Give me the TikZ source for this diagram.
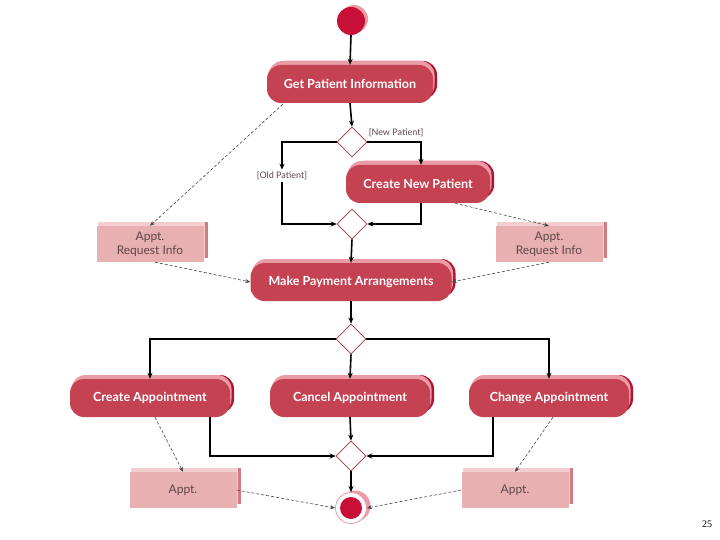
\documentclass[tikz,border=0pt]{standalone}
\usepackage{fontspec}
\setmainfont{Lato}
\newfontfamily\pagenumfont{Liberation Serif}
\usetikzlibrary{shapes.geometric,arrows.meta,shadows}

\definecolor{actred}{RGB}{197,66,82}
\definecolor{actlight}{RGB}{234,156,166}
\definecolor{actdark}{RGB}{178,18,50}
\definecolor{startred}{RGB}{200,16,56}
\definecolor{objfill}{RGB}{232,176,176}
\definecolor{objlight}{RGB}{242,206,206}
\definecolor{objdark}{RGB}{206,124,128}
\definecolor{objtext}{RGB}{95,70,72}
\definecolor{diamline}{RGB}{160,50,64}
\definecolor{depgray}{RGB}{70,70,70}

\begin{document}
\begin{tikzpicture}[x=1pt,y=-1pt,
      activity/.style={rectangle,rounded corners=14pt,fill=actred,text=white,
        font=\fontsize{12.5}{14}\selectfont\bfseries,minimum height=38,inner sep=0pt,
        general shadow={shadow xshift=4pt,shadow yshift=4pt,fill=actdark},
        general shadow={shadow xshift=1.5pt,shadow yshift=4pt,fill=actlight}},
      object/.style={rectangle,fill=objfill,text=objtext,align=center,
        font=\fontsize{12}{14}\selectfont,minimum width=107,minimum height=36,inner sep=0pt,
        general shadow={shadow xshift=4pt,shadow yshift=4pt,fill=objdark},
        general shadow={shadow xshift=1pt,shadow yshift=4pt,fill=objlight}},
      choice/.style={diamond,draw=diamline,fill=white,line width=0.6pt,
        minimum width=30,minimum height=30,inner sep=0pt},
      guard/.style={text=objtext,font=\fontsize{9}{10}\selectfont,inner sep=2pt},
      flow/.style={line width=1.6pt,-{Stealth[length=6pt,width=5pt]}},
      dep/.style={draw=depgray,line width=0.6pt,dash pattern=on 3pt off 2pt,
        -{Stealth[length=5pt,width=4pt]}}]
  \useasboundingbox (0,0) rectangle (720,540);
  % initial and final states
  \node[circle,fill=startred,minimum size=28,inner sep=0pt,
    general shadow={shadow xshift=3pt,shadow yshift=2pt,fill=actlight}] (start) at (351,21) {};
  \node[circle,fill=white,draw=actlight,line width=0.8pt,minimum size=31,inner sep=0pt,
    general shadow={shadow xshift=4pt,shadow yshift=2pt,fill=actlight},
    path picture={\fill[startred] (path picture bounding box.center) circle (11pt);}] (finish) at (351,508) {};
  % activities
  \node[activity,minimum width=166] (getinfo) at (350,84) {Get Patient Information};
  \node[activity,minimum width=144] (newpat) at (418,184) {Create New Patient};
  \node[activity,minimum width=201] (payment) at (351,282) {Make Payment Arrangements};
  \node[activity,minimum width=160] (create) at (150,398) {Create Appointment};
  \node[activity,minimum width=160] (cancel) at (350,398) {Cancel Appointment};
  \node[activity,minimum width=160] (change) at (549,398) {Change Appointment};
  % decisions and merges
  \node[choice] (dec1) at (352,142) {};
  \node[choice] (merge1) at (352,224) {};
  \node[choice] (dec2) at (351,339) {};
  \node[choice] (merge2) at (351,456) {};
  % objects
  \node[object] (reqleft) at (150,244) {Appt.\\Request Info};
  \node[object] (reqright) at (549,244) {Appt.\\Request Info};
  \node[object] (apptleft) at (183,490) {Appt.};
  \node[object] (apptright) at (515,490) {Appt.};
  % guards
  \node[guard] (newlbl) at (396,133) {[New Patient]};
  \node[guard] (oldlbl) at (282,176) {[Old Patient]};
  \node[font=\pagenumfont\fontsize{10}{12}\selectfont] (pagenum) at (707,524) {25};
  % control flow
  \draw[flow] (start.south) -- (getinfo.north);
  \draw[flow] (getinfo.south) -- (dec1.north);
  \draw[flow] (dec1.east) -| ([xshift=3]newpat.north);
  \draw[flow] (dec1.west) -| (oldlbl.north);
  \draw[flow] (oldlbl.south) |- (merge1.west);
  \draw[flow] ([xshift=3]newpat.south) |- (merge1.east);
  \draw[flow] (merge1.south) -- (payment.north);
  \draw[flow] (payment.south) -- (dec2.north);
  \draw[flow] (dec2.west) -| (create.north);
  \draw[flow] (dec2.south) -- (cancel.north);
  \draw[flow] (dec2.east) -| (change.north);
  \draw[flow] ([xshift=60]create.south) |- (merge2.west);
  \draw[flow] (cancel.south) -- (merge2.north);
  \draw[flow] ([xshift=-56]change.south) |- (merge2.east);
  \draw[flow] (merge2.south) -- (finish.north);
  % object flow
  \draw[dep] ([xshift=16,yshift=-1]getinfo.south west) -- (reqleft.north);
  \draw[dep] ([xshift=37]newpat.south) -- (reqright.north);
  \draw[dep] ([xshift=5]reqleft.south) -- (payment.west);
  \draw[dep] (reqright.south) -- (payment.east);
  \draw[dep] ([xshift=5]create.south) -- (apptleft.north);
  \draw[dep] ([xshift=4]change.south) -- (apptright.north);
  \draw[dep] (apptleft.east) -- (finish.west);
  \draw[dep] (apptright.west) -- (finish.east);
\end{tikzpicture}
\end{document}
